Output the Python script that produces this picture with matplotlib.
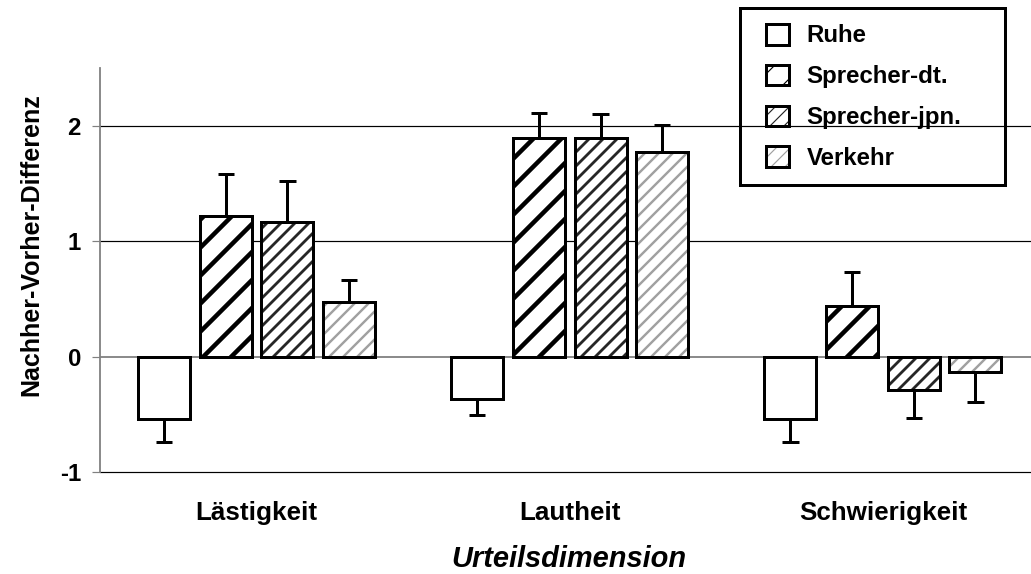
import numpy as np
import matplotlib
matplotlib.use("Agg")
import matplotlib.pyplot as plt

# -----------------------
# Data
# -----------------------
categories = ["Lästigkeit", "Lautheit", "Schwierigkeit"]
series = ["Ruhe", "Sprecher-dt.", "Sprecher-jpn.", "Verkehr"]

ruhe = [-0.54, -0.37, -0.54]
sprecher_dt = [1.22, 1.89, 0.44]
sprecher_jpn = [1.17, 1.89, -0.29]
verkehr = [0.47, 1.77, -0.13]

ruhe_err = [0.20, 0.14, 0.20]
sprecher_dt_err = [0.36, 0.22, 0.29]
sprecher_jpn_err = [0.35, 0.21, 0.24]
verkehr_err = [0.19, 0.24, 0.26]

values = [ruhe, sprecher_dt, sprecher_jpn, verkehr]
errors = [ruhe_err, sprecher_dt_err, sprecher_jpn_err, verkehr_err]

# -----------------------
# Settings (pixel based)
# -----------------------
W, H = 1031, 574
dpi = 84              # hatch spacing follows dpi: "/" -> 14 px, "//" -> 7 px
PX = 72 / dpi         # points per pixel

# hatch style per series: (hatch, hatch color, hatch linewidth in px)
styles = [
    ("", "white", 1.0),
    ("/", "black", 4.5),
    ("//", "#262626", 2.8),
    ("//", "#a0a0a0", 2.4),
]

plt.rcParams["font.family"] = ["Liberation Sans", "DejaVu Sans"]
plt.rcParams["font.weight"] = "bold"

# -----------------------
# Figure layout
# -----------------------
fig = plt.figure(figsize=(W / dpi, H / dpi), dpi=dpi)
ax = fig.add_axes([100 / W, 1 - 472 / H, 1 - 100 / W, (472 - 68) / H])

x = np.arange(len(categories))
width = 0.166
step = 0.197
cap = 0.026

handles = []
for i, (name, vals, errs) in enumerate(zip(series, values, errors)):
    hatch, hcolor, hlw = styles[i]
    pos = x + (i - 1.5) * step
    # error bars, one-sided in the bar direction
    for p, v, e in zip(pos, vals, errs):
        end = v + e if v >= 0 else v - e
        ax.plot([p, p], [v, end], color="black", lw=3 * PX, zorder=2)
        ax.plot([p - cap, p + cap], [end, end], color="black", lw=3 * PX,
                zorder=2, solid_capstyle="butt")
    with plt.rc_context({"hatch.linewidth": hlw * PX}):
        ax.bar(pos, vals, width, color="white", edgecolor=hcolor, hatch=hatch,
               linewidth=0, zorder=3)
        h = plt.Rectangle((0, 0), 1, 1, facecolor="white", edgecolor=hcolor,
                          hatch=hatch, linewidth=0)
    ax.bar(pos, vals, width, fill=False, edgecolor="black", linewidth=3 * PX, zorder=4)
    handles.append(h)

# -----------------------
# Axes styling
# -----------------------
ax.set_xlim(-0.5, (W - 257) / 313)
ax.set_ylim(-1, 2.5)
ax.set_yticks([-1, 0, 1, 2])
ax.set_yticklabels(["-1", "0", "1", "2"], fontsize=24 * PX, fontweight="bold")
for yv in [-1, 1, 2]:
    ax.axhline(yv, color="black", lw=1.2 * PX, zorder=1, clip_on=False)
ax.axhline(0, color="#808080", lw=1.8 * PX, zorder=1)

ax.set_xticks(x)
ax.set_xticklabels(categories, fontsize=26 * PX, fontweight="bold")
ax.tick_params(axis="x", length=0, pad=29 * PX)
ax.tick_params(axis="y", length=8 * PX, width=1.2 * PX, color="#808080", pad=11 * PX)

for s in ["top", "right", "bottom"]:
    ax.spines[s].set_visible(False)
ax.spines["left"].set_color("#808080")
ax.spines["left"].set_linewidth(1.8 * PX)

ax.set_ylabel("Nachher-Vorher-Differenz", fontsize=25 * PX, fontweight="bold")
ax.yaxis.set_label_coords((43 - 100) / (W - 100), 0.563)

fig.text(569 / W, 1 - 567 / H, "Urteilsdimension", fontsize=29 * PX,
         fontweight="bold", style="italic", ha="center", va="baseline")

# -----------------------
# Legend (frame drawn separately)
# -----------------------
frame = plt.Rectangle((740 / W, 1 - 185 / H), 265 / W, 177 / H,
                      transform=fig.transFigure, fill=False, edgecolor="black",
                      linewidth=3 * PX, zorder=10)
fig.add_artist(frame)

leg = fig.legend(handles, series, loc="upper left",
                 bbox_to_anchor=(761 / W, 1 - 19 / H),
                 prop={"size": 24 * PX, "weight": "bold"},
                 frameon=False, handlelength=0.95, handleheight=0.95,
                 handletextpad=0.75, labelspacing=0.72, borderpad=0.2, borderaxespad=0)

# black outlines on legend handles
fig.canvas.draw()
for p in leg.get_patches():
    bb = p.get_window_extent()
    r = plt.Rectangle((bb.x0, bb.y0), bb.width, bb.height, transform=None,
                      fill=False, edgecolor="black", linewidth=3 * PX, zorder=10)
    fig.add_artist(r)

fig.savefig("out.png", dpi=dpi)
